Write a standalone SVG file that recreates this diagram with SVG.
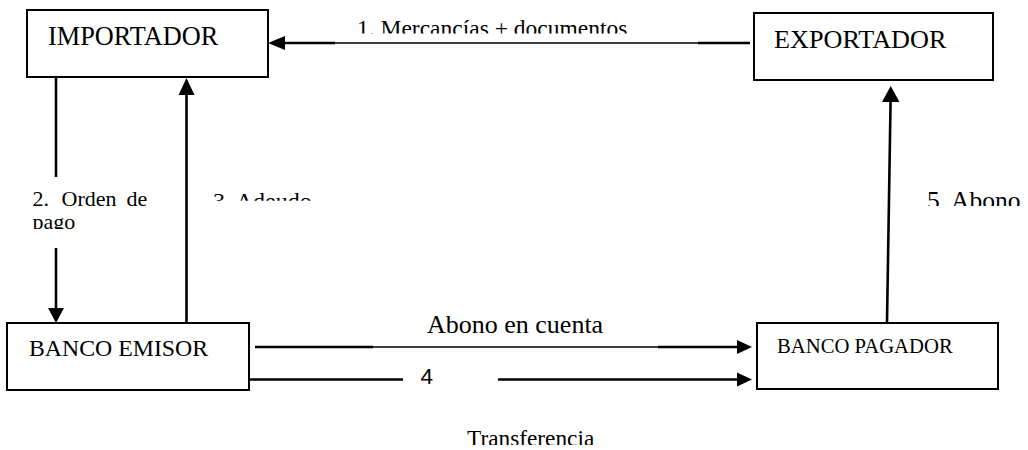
<svg xmlns="http://www.w3.org/2000/svg" width="1028" height="450" viewBox="0 0 1028 450">
<style>
.box{fill:#fff;stroke:#000;stroke-width:2}
.t{font-family:"Liberation Serif","Times New Roman",serif;fill:#000}
.thick{stroke:#000;stroke-width:2.6;fill:none}
.thin{stroke:#000;stroke-width:1.6;fill:none}
.head{fill:#000}
</style>
<defs>
<clipPath id="c1"><rect x="340" y="0" width="330" height="33.5"/></clipPath>
<clipPath id="c2"><rect x="20" y="180" width="140" height="49"/></clipPath>
<clipPath id="c3"><rect x="200" y="185" width="140" height="15.7"/></clipPath>
<clipPath id="c5"><rect x="915" y="180" width="113" height="26"/></clipPath>
<clipPath id="c6"><rect x="440" y="420" width="180" height="25"/></clipPath>
</defs>
<rect width="1028" height="450" fill="#fff"/>
<g id="connectors">
  <!-- 1 Exportador -> Importador -->
  <line class="thin" x1="285" y1="43" x2="750" y2="43"/>
  <line class="thick" x1="285" y1="43" x2="335" y2="43"/>
  <line class="thick" x1="698" y1="43" x2="750" y2="43"/>
  <polygon class="head" points="268,43 285,36 285,50"/>
  <g clip-path="url(#c1)"><text class="t" x="357" y="36.3" font-size="23.5">1. Mercancías + documentos</text></g>
  <!-- 2 Importador -> Banco emisor -->
  <line class="thick" x1="56" y1="77" x2="56" y2="177"/>
  <line class="thick" x1="56" y1="248" x2="56" y2="309"/>
  <polygon class="head" points="56,323 48,308 64,308"/>
  <g clip-path="url(#c2)">
    <text class="t" font-size="22" y="206"><tspan x="32.5">2.</tspan><tspan x="61.5">Orden</tspan><tspan x="126.5">de</tspan></text>
    <text class="t" font-size="22" x="32.5" y="229">pago</text>
  </g>
  <!-- 3 Banco emisor -> Importador -->
  <line class="thick" x1="186.5" y1="323" x2="186.5" y2="94"/>
  <polygon class="head" points="186.5,78 178.5,95 194.5,95"/>
  <g clip-path="url(#c3)"><text class="t" x="213" y="208.5" font-size="24">3. Adeudo</text></g>
  <!-- 5 Banco pagador -> Exportador -->
  <line class="thick" x1="887" y1="322" x2="890.6" y2="100"/>
  <polygon class="head" points="890.7,86 882,102 899.5,102"/>
  <g clip-path="url(#c5)"><text class="t" x="927" y="208.5" font-size="25.5">5. Abono</text></g>
  <!-- Abono en cuenta -->
  <line class="thin" x1="255" y1="347" x2="740" y2="347"/>
  <line class="thick" x1="255" y1="347" x2="373" y2="347"/>
  <line class="thick" x1="658" y1="347" x2="740" y2="347"/>
  <polygon class="head" points="752,347 737,340 737,354"/>
  <text class="t" x="427" y="333" font-size="26">Abono en cuenta</text>
  <!-- 4 Transferencia -->
  <line class="thick" x1="249" y1="379.5" x2="403" y2="379.5"/>
  <line class="thick" x1="498" y1="379.5" x2="740" y2="379.5"/>
  <polygon class="head" points="752,379.5 737,372.5 737,386.5"/>
  <text x="420.5" y="384" font-size="22.5" font-family="Liberation Sans, Arial, sans-serif">4</text>
  <g clip-path="url(#c6)"><text class="t" x="467" y="446" font-size="23.3">Transferencia</text></g>
</g>
<g id="importador">
  <rect class="box" x="27" y="10" width="241" height="67"/>
  <text class="t" x="48" y="45" font-size="26.3">IMPORTADOR</text>
</g>
<g id="exportador">
  <rect class="box" x="754" y="13" width="239" height="67"/>
  <text class="t" x="774" y="48.3" font-size="26.2">EXPORTADOR</text>
</g>
<g id="banco-emisor">
  <rect class="box" x="7" y="323" width="242" height="67"/>
  <text class="t" x="29" y="355.7" font-size="23.8">BANCO EMISOR</text>
</g>
<g id="banco-pagador">
  <rect class="box" x="757" y="323" width="241" height="66"/>
  <text class="t" x="777" y="353" font-size="20.7">BANCO PAGADOR</text>
</g>
</svg>
